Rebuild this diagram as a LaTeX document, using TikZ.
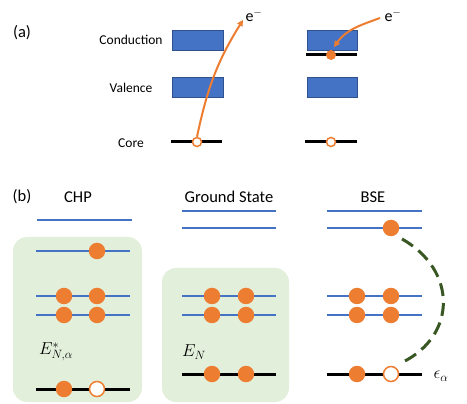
\documentclass[tikz,border=0pt]{standalone}
\usepackage{fontspec}
\setmainfont{Carlito}
\usetikzlibrary{arrows.meta}
\definecolor{myblue}{HTML}{4472C4}
\definecolor{myblueedge}{HTML}{2F528F}
\definecolor{myorange}{HTML}{ED7D31}
\definecolor{mygreen}{HTML}{E2EFDA}
\definecolor{mydkgreen}{HTML}{385723}
\begin{document}
\begin{tikzpicture}[x=1pt,y=-1pt,
  band/.style={draw=myblueedge,line width=0.8pt,fill=myblue},
  lvl/.style={draw=myblue,line width=2pt},
  corelvl/.style={draw=black,line width=3pt},
  elec/.style={circle,fill=myorange,inner sep=0pt,minimum size=16.5pt},
  holec/.style={circle,draw=myorange,fill=white,line width=1.5pt,inner sep=0pt,minimum size=15pt},
  selec/.style={circle,fill=myorange,inner sep=0pt,minimum size=10pt},
  sholec/.style={circle,draw=myorange,fill=white,line width=1.5pt,inner sep=0pt,minimum size=9pt},
  laba/.style={inner sep=0pt,font=\fontsize{13.5}{16}\selectfont},
  labe/.style={inner sep=0pt,font=\fontsize{16}{19}\selectfont},
  labb/.style={inner sep=0pt,font=\fontsize{16.5}{20}\selectfont},
  mathlab/.style={inner sep=0pt,font=\fontsize{17.5}{21}\selectfont},
  arr/.style={draw=myorange,line width=2pt,-{Triangle[length=6pt,width=6pt]}},
  greenbox/.style={fill=mygreen,draw=none,rounded corners=14pt},
  exc/.style={draw=mydkgreen,line width=3pt,dash pattern=on 13pt off 7pt}
]
\useasboundingbox (0,0) rectangle (467,404);

% ---------- (a) ----------
\node[labb] (pa) at (22,33) {(a)};
\node[laba] (lc) at (131,40) {Conduction};
\node[laba] (lv) at (131,88) {Valence};
\node[laba] (lk) at (131,143) {Core};

\draw[band] (172,30) rectangle (223,50);
\draw[band] (172,77) rectangle (223,97);
\draw[corelvl] (171,142) -- (222,142);
\node[sholec] (h1) at (197,142) {};
\node[labe] (e1) at (254,15) {e$^{-}$};
\coordinate (t1) at (243,20);
\draw[arr] (h1.north) to[out=78,in=238] (t1);

\draw[band] (307,30) rectangle (357,50);
\draw[band] (307,77) rectangle (357,97);
\draw[corelvl] (306,55) -- (357,55);
\node[selec] (x1) at (331,55) {};
\draw[corelvl] (305,142) -- (357,142);
\node[sholec] (h2) at (331,142) {};
\node[labe] (e2) at (393,15) {e$^{-}$};
\coordinate (s2) at (380,18);
\coordinate (t2) at (334,47);
\draw[arr] (s2) to[out=200,in=55] (t2);

% ---------- (b) ----------
\node[labb] (pb) at (22,197) {(b)};
\node[labb] (chp) at (78,197) {CHP};
\node[labb] (gs) at (229,197) {Ground State};
\node[labb] (bse) at (373,197) {BSE};

\fill[greenbox] (13,237) rectangle (142,402);
\fill[greenbox] (162,268) rectangle (289,402);

% CHP
\draw[lvl] (37,220) -- (132,220);
\draw[lvl] (36,251) -- (130,251);
\draw[lvl] (36,296) -- (130,296);
\draw[lvl] (36,315) -- (130,315);
\draw[corelvl] (36,389) -- (130,389);
\node[elec] (c1) at (97,251) {};
\node[elec] (c2) at (64,296) {};
\node[elec] (c3) at (97,296) {};
\node[elec] (c4) at (64,315) {};
\node[elec] (c5) at (97,315) {};
\node[elec] (c6) at (64,389) {};
\node[holec] (c7) at (97,389) {};
\node[mathlab] (ech) at (56,352) {$E^{*}_{N,\alpha}$};

% Ground state
\draw[lvl] (182,211) -- (276,211);
\draw[lvl] (182,228) -- (276,228);
\draw[lvl] (182,296) -- (276,296);
\draw[lvl] (182,315) -- (276,315);
\draw[corelvl] (182,374) -- (276,374);
\node[elec] (g1) at (212,296) {};
\node[elec] (g2) at (246,296) {};
\node[elec] (g3) at (212,315) {};
\node[elec] (g4) at (246,315) {};
\node[elec] (g5) at (212,374) {};
\node[elec] (g6) at (246,374) {};
\node[mathlab] (egs) at (194,352) {$E_{N}$};

% BSE
\draw[lvl] (327,211) -- (422,211);
\draw[lvl] (327,228) -- (422,228);
\draw[lvl] (327,296) -- (422,296);
\draw[lvl] (327,315) -- (422,315);
\draw[corelvl] (327,374) -- (422,374);
\node[elec] (b1) at (391,228) {};
\node[elec] (b2) at (357,296) {};
\node[elec] (b3) at (391,296) {};
\node[elec] (b4) at (357,315) {};
\node[elec] (b5) at (391,315) {};
\node[elec] (b6) at (357,374) {};
\node[holec] (b7) at (391,374) {};
\node[mathlab] (eps) at (441,376) {$\epsilon_{\alpha}$};
\coordinate (d1) at (402,239);
\coordinate (d2) at (403,362);
\draw[exc] (d1) .. controls (457,270) and (457,335) .. (d2);
\end{tikzpicture}
\end{document}
